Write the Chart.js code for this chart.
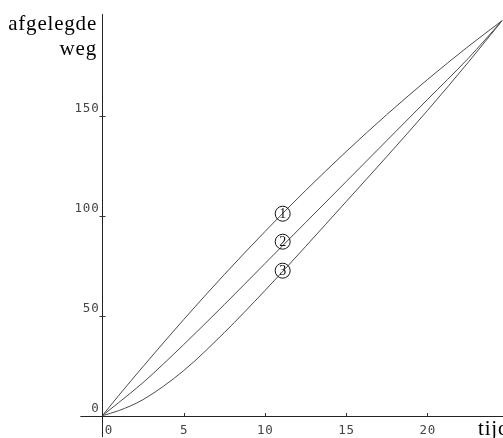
<!DOCTYPE html>
<html>
<head>
<meta charset="utf-8">
<script src="https://cdn.jsdelivr.net/npm/chart.js@4/dist/chart.umd.min.js"></script>
<style>
  html, body { margin: 0; padding: 0; background: #fff; }
  #c { display: block; }
</style>
</head>
<body>
<canvas id="c" width="503" height="438"></canvas>
<script>
// ---- data ----
const times   = [0, 1, 2.5, 5, 7.5, 10, 12.5, 15, 17.5, 20, 22.5, 24.6];
const curve1  = [0, 10, 24.5, 48, 70.5, 92, 112.5, 132, 150.5, 168, 184.5, 197.5]; // decelerating
const curve2  = [0, 6.5, 16.5, 35.5, 55.5, 76, 96.5, 117, 137.5, 158, 178.5, 197.5]; // (nearly) uniform
const curve3  = [0, 2.5, 8, 22.5, 41.5, 62.5, 84.5, 107, 129.5, 152.5, 176.5, 197.5]; // accelerating
const xTicks  = [0, 5, 10, 15, 20];
const yTicks  = [0, 50, 100, 150];
const markerNames = ['1', '2', '3'];
const markerX = 11.1;
const markerY = [101, 87, 72.5];
const yTitle  = ['afgelegde', 'weg'];
const xTitle  = 'tijd';

const toPts = arr => arr.map((v, i) => ({x: times[i], y: v}));

const axesPlugin = {
  id: 'axes',
  afterDatasetsDraw(chart) {
    const ctx = chart.ctx;
    const xs = chart.scales.x, ys = chart.scales.y;
    const px = v => xs.getPixelForValue(v);
    const py = v => ys.getPixelForValue(v);
    const x0 = Math.round(px(0)) + 0.5;
    const y0 = Math.round(py(0)) + 0.5;
    ctx.save();
    ctx.strokeStyle = '#222';
    ctx.lineWidth = 1;
    // x axis
    ctx.beginPath();
    ctx.moveTo(px(-1.35), y0);
    ctx.lineTo(chart.width, y0);
    // y axis
    ctx.moveTo(x0, py(200.8));
    ctx.lineTo(x0, py(-10.7));
    ctx.stroke();

    // ticks
    ctx.strokeStyle = '#333';
    ctx.beginPath();
    xTicks.forEach(t => {
      if (t === 0) return;
      const x = Math.round(px(t)) + 0.5;
      ctx.moveTo(x, y0);
      ctx.lineTo(x, y0 - 3.5);
    });
    yTicks.forEach(t => {
      if (t === 0) return;
      const y = Math.round(py(t)) + 0.5;
      ctx.moveTo(x0 - 3, y);
      ctx.lineTo(x0 + 3, y);
    });
    ctx.stroke();

    // tick labels
    ctx.fillStyle = '#444';
    ctx.font = '12.5px "DejaVu Sans Mono"';
    ctx.letterSpacing = '0.8px';
    ctx.textBaseline = 'alphabetic';
    xTicks.forEach(t => {
      const x = px(t);
      if (t === 0) {
        ctx.textAlign = 'left';
        ctx.fillText(String(t), x + 2.5, y0 + 17);
      } else {
        ctx.textAlign = 'center';
        ctx.fillText(String(t), x + 0.5, y0 + 17);
      }
    });
    ctx.textAlign = 'right';
    yTicks.forEach(t => {
      const y = py(t);
      ctx.fillText(String(t), x0 - 3, y - 4);
    });

    // markers (circled numbers)
    ctx.letterSpacing = '0px';
    ctx.strokeStyle = '#111';
    ctx.fillStyle = '#111';
    markerY.forEach((v, i) => {
      const cx = px(markerX), cy = py(v);
      ctx.beginPath();
      ctx.arc(cx, cy, 7.5, 0, Math.PI * 2);
      ctx.stroke();
      ctx.font = '14px "Liberation Serif"';
      ctx.textAlign = 'center';
      ctx.textBaseline = 'middle';
      ctx.fillText(markerNames[i], cx, cy + 1);
    });

    // axis titles
    ctx.fillStyle = '#000';
    ctx.font = '21px "Liberation Serif"';
    ctx.letterSpacing = '0.8px';
    ctx.textAlign = 'right';
    ctx.textBaseline = 'alphabetic';
    ctx.fillText(yTitle[0], 97, 30);
    ctx.fillText(yTitle[1], 97, 55);
    ctx.textAlign = 'left';
    ctx.fillText(xTitle, 478, 435);
    ctx.restore();
  }
};

const lineStyle = {
  borderColor: '#4a4a4a',
  borderWidth: 1,
  pointRadius: 0,
  fill: false,
  cubicInterpolationMode: 'monotone',
  clip: false
};

new Chart(document.getElementById('c'), {
  type: 'line',
  data: {
    datasets: [
      Object.assign({label: '1', data: toPts(curve1)}, lineStyle),
      Object.assign({label: '2', data: toPts(curve2)}, lineStyle),
      Object.assign({label: '3', data: toPts(curve3)}, lineStyle)
    ]
  },
  options: {
    responsive: false,
    animation: false,
    devicePixelRatio: 1,
    layout: { padding: 0 },
    plugins: { legend: { display: false }, tooltip: { enabled: false } },
    scales: {
      x: { type: 'linear', min: -6.295, max: 24.658, display: false },
      y: { type: 'linear', min: -11.15, max: 207.85, display: false }
    }
  },
  plugins: [axesPlugin]
});
</script>
</body>
</html>
